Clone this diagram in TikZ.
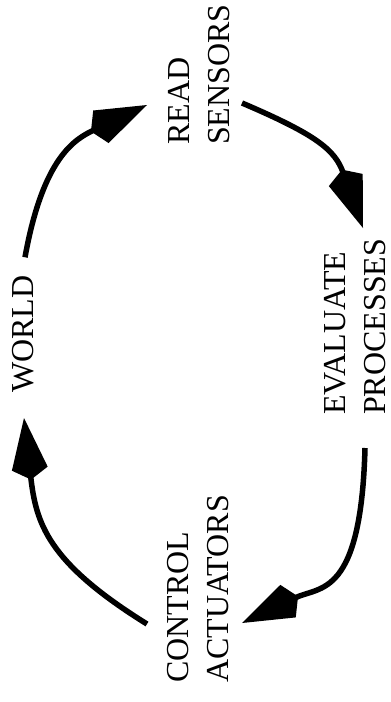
\documentclass[tikz,border=0pt]{standalone}
\usepackage{fontspec}
\setmainfont{Liberation Serif}
\usetikzlibrary{arrows.meta}

\begin{document}
\begin{tikzpicture}[x=1pt, y=-1pt,
  stage/.style={rotate=90, anchor=west, inner sep=0pt, align=left, font=\fontsize{32}{40}\selectfont},
  flow/.style={line width=5.5pt, -{Kite[length=62pt, width=36pt, inset=11pt]}}]
  \useasboundingbox (0,0) rectangle (391,702);
  \node[stage] (world) at (23,393) {WORLD};
  \node[stage] (read) at (199,145) {READ\\SENSORS};
  \node[stage] (eval) at (355,415) {EVALUATE\\PROCESSES};
  \node[stage] (ctrl) at (198,683) {CONTROL\\ACTUATORS};
  \draw[flow] ([shift={(2,-18)}]world.east) .. controls +(18,-100) and +(-72,34) .. ([shift={(-52,-40)}]read.west);
  \draw[flow] ([shift={(43,-42)}]read.west) .. controls +(75,32) and +(-28,-78) .. ([shift={(8,-187)}]eval.west);
  \draw[flow] ([shift={(10,33)}]eval.west) .. controls +(-4,150) and +(78,-37) .. ([shift={(44,-60)}]ctrl.west);
  \draw[flow] ([shift={(-51,-59)}]ctrl.west) .. controls +(-100,-62) and +(12,105) .. ([shift={(1,25)}]world.west);
\end{tikzpicture}
\end{document}
